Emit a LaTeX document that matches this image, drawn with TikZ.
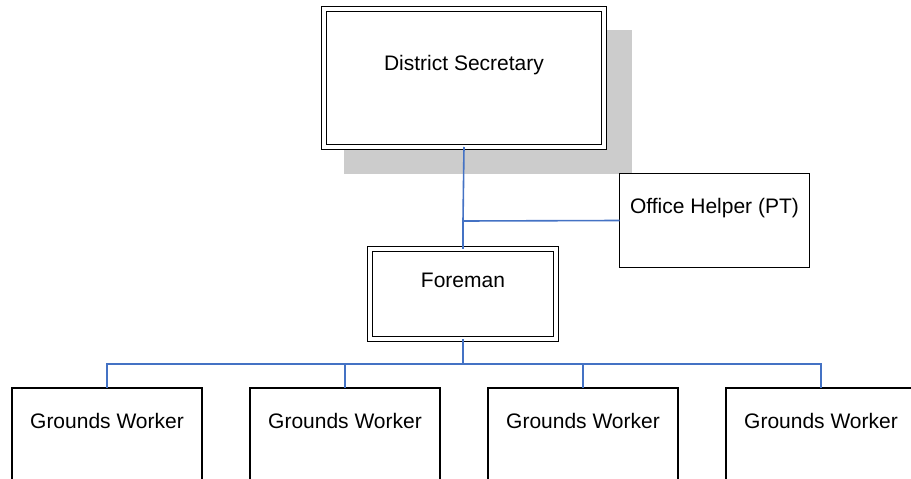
\documentclass[tikz,border=0pt]{standalone}
\usepackage{fontspec}
\setmainfont{Liberation Sans}
\definecolor{connblue}{HTML}{4472C4}
\definecolor{shadowgray}{HTML}{CCCCCC}
\tikzset{
  dbox/.style={draw=black, line width=1.6pt, double=white, double distance=3.2pt, fill=white, inner sep=0pt, outer sep=0pt},
  sbox/.style={draw=black, line width=1.6pt, fill=white, inner sep=0pt, outer sep=0pt, minimum width=190pt, minimum height=94pt},
  lbl/.style={font=\fontsize{21}{25}\selectfont, inner sep=0pt},
  conn/.style={draw=connblue, line width=1.6pt}
}
\begin{document}
\begin{tikzpicture}[x=1pt,y=-1pt]
\useasboundingbox (0,0) rectangle (911,479);
\clip (0,0) rectangle (911,479);
% shadow
\fill[shadowgray] (344,30) rectangle (632,174);
% boxes
\node[dbox, minimum width=280pt, minimum height=138pt] (ds) at (464,78) {};
\node[sbox] (oh) at (714.5,220.5) {};
\node[dbox, minimum width=186pt, minimum height=90pt] (fm) at (463,294) {};
\foreach \i/\x in {1/107,2/345,3/583,4/821}{
  \node[sbox, minimum height=100pt] (gw\i) at (\x,438) {};
}
% labels
\node[lbl] (tds) at (464,65) {District Secretary};
\node[lbl] (toh) at (714.5,208) {Office Helper (PT)};
\node[lbl] (tfm) at (463,280) {Foreman};
\foreach \i/\x in {1/107,2/345,3/583,4/821}{
  \node[lbl] (tgw\i) at (\x,421) {Grounds Worker};
}
% connectors
\coordinate (j) at (463,221);
\coordinate (b) at (463,364);
\draw[conn] (ds.south) -- (j) -- (oh.west);
\draw[conn] (j) -- (fm.north);
\draw[conn] (fm.south) -- (b);
\foreach \i in {1,2,3,4}{
  \draw[conn] (b) -| (gw\i.north);
}
\end{tikzpicture}
\end{document}
